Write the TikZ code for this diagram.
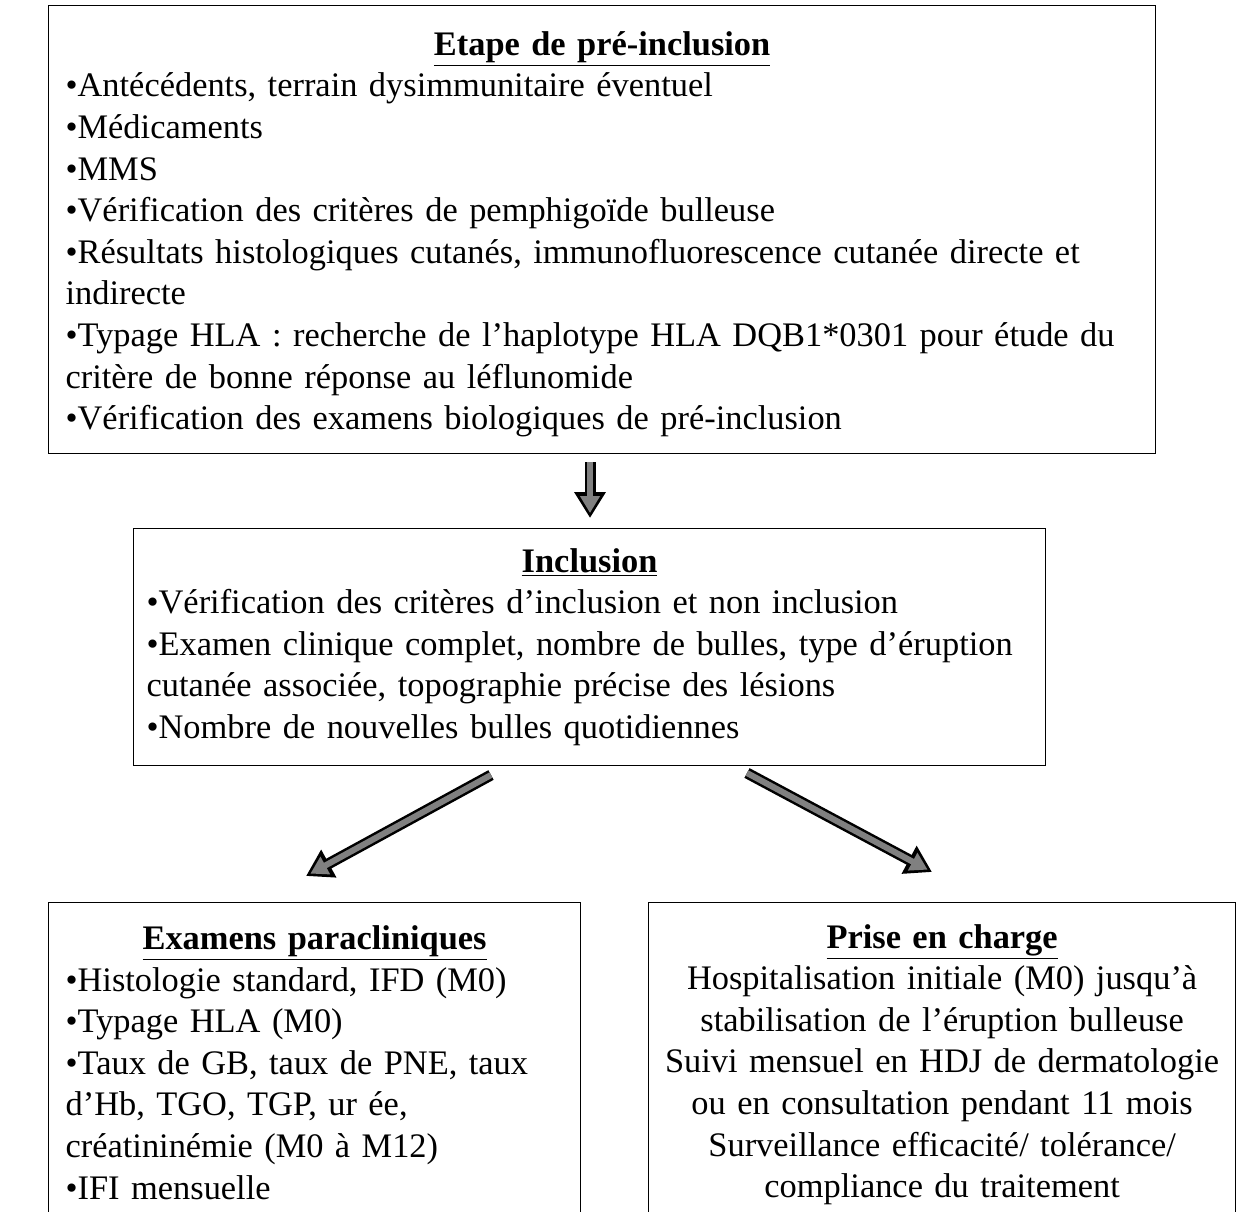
\documentclass[tikz,border=0pt]{standalone}
\usepackage{fontspec}
\setmainfont{Liberation Serif}
\usetikzlibrary{arrows.meta}

\newcommand{\boxtitle}[1]{\centerline{\textbf{\underline{#1}}}}

\tikzset{
  box/.style={draw, line width=0.6pt, inner xsep=8.5pt, anchor=north west,
    font=\fontsize{17.2pt}{20.8pt}\selectfont},
  bigarrow/.style={line width=5.5pt, draw=black,
    -{Triangle[length=13pt,width=15pt]},
    postaction={draw=black!50, line width=3pt, shorten >=2.5pt,
      -{Triangle[length=8.5pt,width=9.5pt]}}}
}

\begin{document}
\begin{tikzpicture}[x=0.5pt,y=-0.5pt]
            \useasboundingbox (0,0) rectangle (1240,1211);
            \clip (0,0) rectangle (1240,1211);

            \node[box, align=left, text width=536.5pt, minimum height=224pt] (pre) at (48,5) {%
              \boxtitle{Etape de pré-inclusion}
              •Antécédents, terrain dysimmunitaire éventuel\\
              •Médicaments\\
              •MMS\\
              •Vérification des critères de pemphigoïde bulleuse\\
              •Résultats histologiques cutanés, immunofluorescence cutanée directe et\\
              indirecte\\
              •Typage HLA : recherche de l’haplotype HLA DQB1*0301 pour étude du\\
              critère de bonne réponse au léflunomide\\
              •Vérification des examens biologiques de pré-inclusion\\[-21.8pt]\mbox{}};

            \node[box, align=left, inner xsep=6.5pt, text width=443pt, minimum height=118.5pt] (incl) at (133,528) {%
              \boxtitle{Inclusion}
              •Vérification des critères d’inclusion et non inclusion\\
              •Examen clinique complet, nombre de bulles, type d’éruption\\
              cutanée associée, topographie précise des lésions\\
              •Nombre de nouvelles bulles quotidiennes};

            \node[box, align=left, text width=249pt, minimum height=160pt] (exam) at (48,902) {%
              \boxtitle{Examens paracliniques}
              •Histologie standard, IFD (M0)\\
              •Typage HLA (M0)\\
              •Taux de GB, taux de PNE, taux\\
              d’Hb, TGO, TGP, ur ée,\\
              créatininémie (M0 à M12)\\
              •IFI mensuelle};

            \node[box, align=center, inner xsep=3pt, text width=287.5pt, minimum height=162pt] (prise) at (648,902) {%
              \textbf{\underline{Prise en charge}}\\
              Hospitalisation initiale (M0) jusqu’à\\
              stabilisation de l’éruption bulleuse\\
              Suivi mensuel en HDJ de dermatologie\\
              ou en consultation pendant 11 mois\\
              Surveillance efficacité/ tolérance/\\
              compliance du traitement};

            % arrows
            \coordinate (a1s) at (590,462);
            \coordinate (a1e) at (590,518);
            \coordinate (a2s) at (491,775);
            \coordinate (a2e) at (306,876);
            \coordinate (a3s) at (747,773);
            \coordinate (a3e) at (932,872);
            \draw[bigarrow] (a1s) -- (a1e);
            \draw[bigarrow] (a2s) -- (a2e);
            \draw[bigarrow] (a3s) -- (a3e);
        \end{tikzpicture}
\end{document}
